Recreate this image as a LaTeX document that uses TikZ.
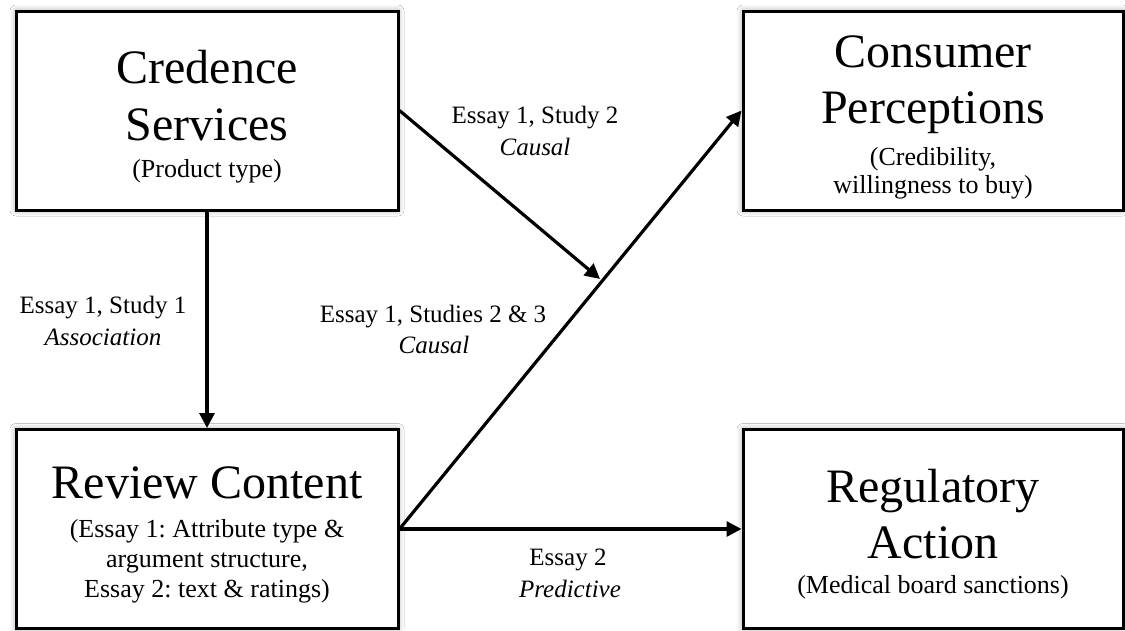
\documentclass[tikz,border=0pt]{standalone}
\usepackage{fontspec}
\setmainfont{Liberation Serif}
\usetikzlibrary{arrows.meta,shadows.blur,calc}
\frenchspacing
\begin{document}
\begin{tikzpicture}[x=1pt,y=-1pt,
  box/.style={draw=black,line width=3pt,fill=white,minimum height=199pt,inner sep=0pt,
    blur shadow={shadow xshift=0pt,shadow yshift=0pt,shadow blur radius=6pt,shadow opacity=40}},
  leftbox/.style={box,minimum width=382pt},
  rightbox/.style={box,minimum width=380pt},
  title/.style={anchor=base,inner sep=0pt,font=\fontsize{48}{57}\selectfont},
  sub/.style={anchor=base,inner sep=0pt,font=\fontsize{26}{29}\selectfont},
  lab/.style={anchor=base,inner sep=0pt,font=\fontsize{25}{30}\selectfont},
  labit/.style={lab,font=\fontsize{25}{30}\selectfont\itshape},
  conn/.style={line width=3.2pt,-{Triangle[length=15pt,width=15pt]}}
]
\useasboundingbox (0,0) rectangle (1125,630);
\fill[white] (0,0) rectangle (1125,630);

% boxes
\node[leftbox] (cred) at (207,110.5) {};
\node[rightbox] (cons) at (933,110.5) {};
\node[leftbox] (rev) at (207,529) {};
\node[rightbox] (reg) at (933,529) {};

% box texts
\node[title] (credA) at (207,83) {Credence};
\node[title] (credB) at (207,140) {Services};
\node[sub] (credC) at (207,177) {(Product type)};

\node[title] (consA) at (933,67) {Consumer};
\node[title] (consB) at (933,123) {Perceptions};
\node[sub] (consC) at (933,165) {(Credibility,};
\node[sub] (consD) at (933,193) {willingness to buy)};

\node[title] (revA) at (207,498) {Review Content};
\node[sub] (revB) at (207,537) {(Essay 1: Attribute type \&};
\node[sub] (revC) at (207,567) {argument structure,};
\node[sub] (revD) at (207,597) {Essay 2: text \& ratings)};

\node[title] (regA) at (933,502) {Regulatory};
\node[title] (regB) at (933,558) {Action};
\node[sub] (regC) at (933,593) {(Medical board sanctions)};

% connectors
\coordinate (hit) at (600,279);
\draw[conn] (cred.south) -- (rev.north);
\draw[conn] (rev.east) -- (cons.west);
\draw[conn] (rev.east) -- (reg.west);
\draw[conn] (cred.east) -- (hit);

% labels
\node[lab] (l1a) at (103,313) {Essay 1, Study 1};
\node[labit] (l1b) at (103,345) {Association};
\node[lab] (l2a) at (535,123) {Essay 1, Study 2};
\node[labit] (l2b) at (535,155) {Causal};
\node[lab] (l3a) at (433,322) {Essay 1, Studies 2 \& 3};
\node[labit] (l3b) at (434,353) {Causal};
\node[lab] (l4a) at (568,565) {Essay 2};
\node[labit] (l4b) at (570,597) {Predictive};
\end{tikzpicture}
\end{document}
